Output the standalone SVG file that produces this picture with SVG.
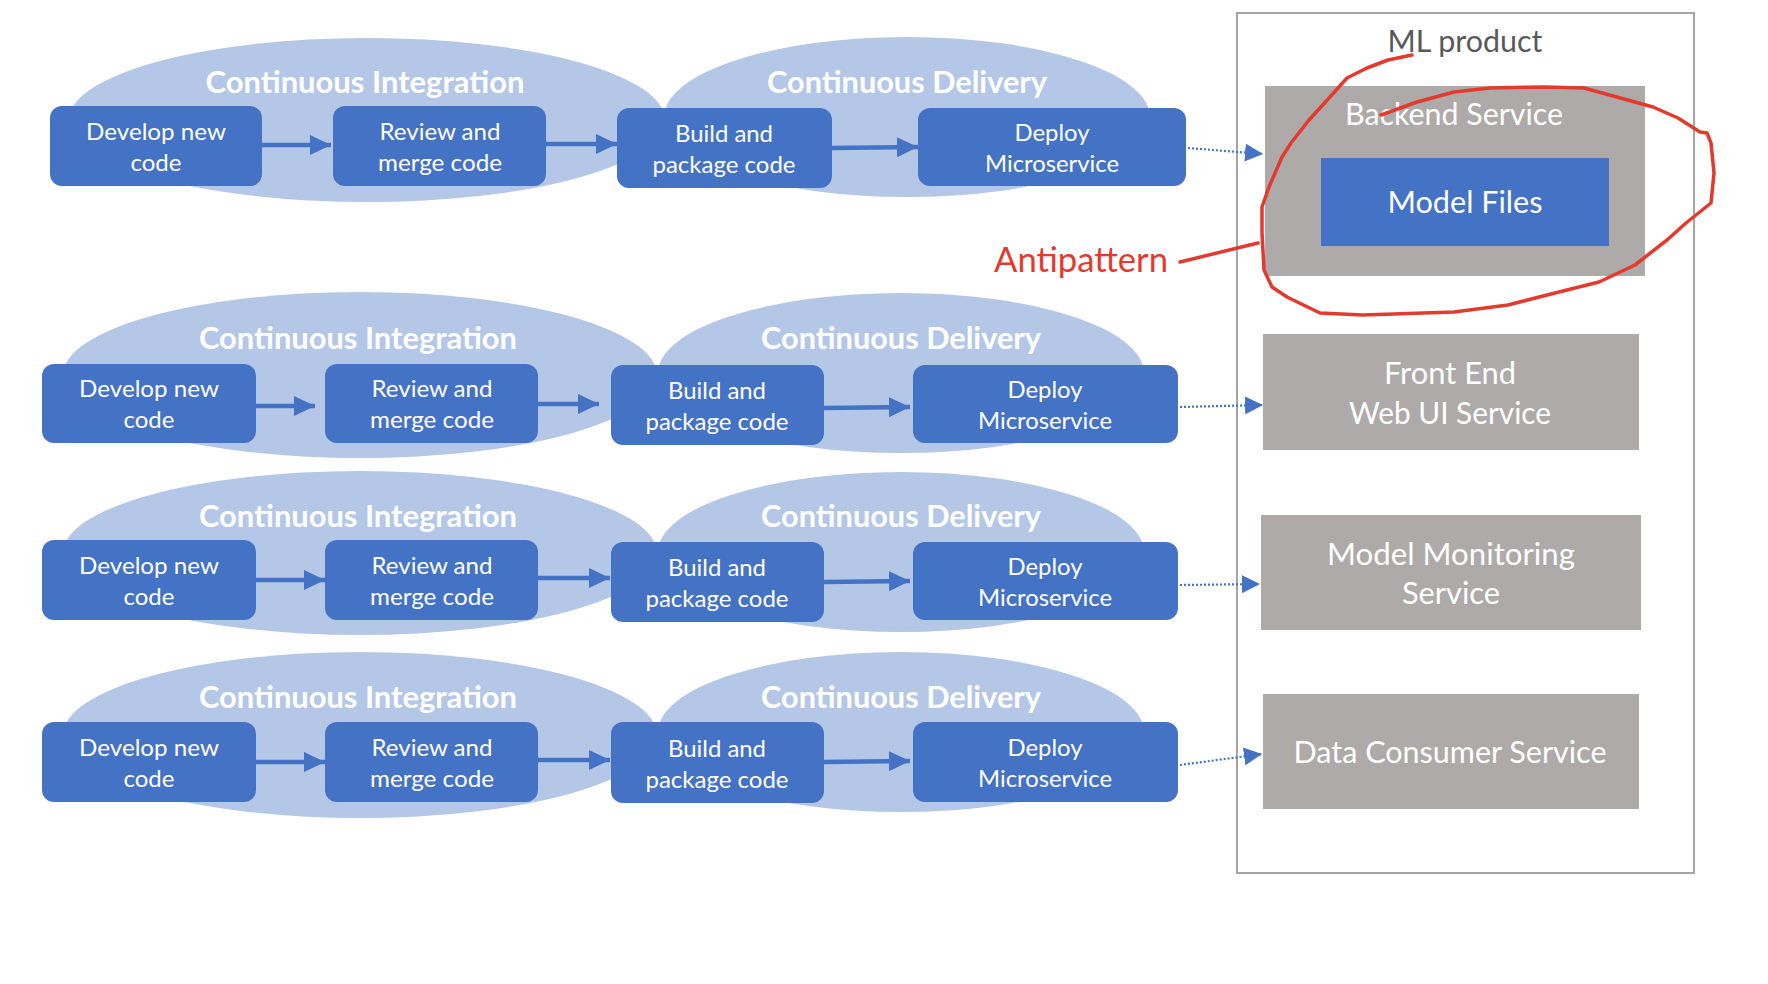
<svg xmlns="http://www.w3.org/2000/svg" width="1768" height="984" viewBox="0 0 1768 984">
<style>
.ell{fill:#B4C7E7}
.box{fill:#4472C4}
.gray{fill:#AEAAAA}
.t{font-family:Lato,"Open Sans","Liberation Sans",sans-serif;fill:#FFFFFF;text-anchor:middle}
.bt{font-size:24px}
.tt{font-size:31px;font-weight:bold}
.rt{font-size:31px}
.arr{stroke:#4472C4;stroke-width:4.5;fill:none}
.dot{stroke:#4472C4;stroke-width:2.2;stroke-dasharray:2 2;fill:none}
.red{stroke:#E23B2E;stroke-width:3.5;fill:none;stroke-linejoin:round;stroke-linecap:round}
</style>
<defs>
<marker id="ah" markerUnits="userSpaceOnUse" markerWidth="22" markerHeight="20" refX="21" refY="10" orient="auto"><path d="M0,0 L21,10 L0,20 z" fill="#4472C4"/></marker>
<marker id="ahd" markerUnits="userSpaceOnUse" markerWidth="18" markerHeight="18" refX="18" refY="9" orient="auto"><path d="M0,0 L18,9 L0,18 z" fill="#4472C4"/></marker>
</defs>
<rect width="1768" height="984" fill="#FFFFFF"/>

<!-- Row 1 -->
<g id="ci1"><ellipse class="ell" cx="367" cy="120" rx="298" ry="82"/><text class="t tt" x="365" y="93" textLength="319" lengthAdjust="spacingAndGlyphs">Continuous Integration</text></g>
<g id="cd1"><ellipse class="ell" cx="907" cy="117" rx="243" ry="80"/><text class="t tt" x="907" y="93" textLength="280" lengthAdjust="spacingAndGlyphs">Continuous Delivery</text></g>
<g id="dev1"><rect class="box" x="50" y="106" width="212" height="80" rx="12"/><text class="t bt" x="156" y="140" textLength="140" lengthAdjust="spacingAndGlyphs">Develop new</text><text class="t bt" x="156" y="171" textLength="51" lengthAdjust="spacingAndGlyphs">code</text></g>
<g id="rev1"><rect class="box" x="333" y="106" width="213" height="80" rx="12"/><text class="t bt" x="440" y="140" textLength="121" lengthAdjust="spacingAndGlyphs">Review and</text><text class="t bt" x="440" y="171" textLength="124" lengthAdjust="spacingAndGlyphs">merge code</text></g>
<g id="bld1"><rect class="box" x="617" y="108" width="215" height="80" rx="12"/><text class="t bt" x="724" y="142" textLength="98" lengthAdjust="spacingAndGlyphs">Build and</text><text class="t bt" x="724" y="173" textLength="143" lengthAdjust="spacingAndGlyphs">package code</text></g>
<g id="dep1"><rect class="box" x="918" y="108" width="268" height="78" rx="12"/><text class="t bt" x="1052" y="141" textLength="75" lengthAdjust="spacingAndGlyphs">Deploy</text><text class="t bt" x="1052" y="172" textLength="134" lengthAdjust="spacingAndGlyphs">Microservice</text></g>

<!-- Row 2 -->
<g id="ci2"><ellipse class="ell" cx="360" cy="375" rx="297" ry="83"/><text class="t tt" x="358" y="349" textLength="318" lengthAdjust="spacingAndGlyphs">Continuous Integration</text></g>
<g id="cd2"><ellipse class="ell" cx="901" cy="373" rx="243" ry="80"/><text class="t tt" x="901" y="349" textLength="280" lengthAdjust="spacingAndGlyphs">Continuous Delivery</text></g>
<g id="dev2"><rect class="box" x="42" y="364" width="214" height="79" rx="12"/><text class="t bt" x="149" y="397" textLength="140" lengthAdjust="spacingAndGlyphs">Develop new</text><text class="t bt" x="149" y="428" textLength="51" lengthAdjust="spacingAndGlyphs">code</text></g>
<g id="rev2"><rect class="box" x="325" y="364" width="213" height="79" rx="12"/><text class="t bt" x="432" y="397" textLength="121" lengthAdjust="spacingAndGlyphs">Review and</text><text class="t bt" x="432" y="428" textLength="124" lengthAdjust="spacingAndGlyphs">merge code</text></g>
<g id="bld2"><rect class="box" x="611" y="365" width="213" height="80" rx="12"/><text class="t bt" x="717" y="399" textLength="98" lengthAdjust="spacingAndGlyphs">Build and</text><text class="t bt" x="717" y="430" textLength="143" lengthAdjust="spacingAndGlyphs">package code</text></g>
<g id="dep2"><rect class="box" x="913" y="365" width="265" height="78" rx="12"/><text class="t bt" x="1045" y="398" textLength="75" lengthAdjust="spacingAndGlyphs">Deploy</text><text class="t bt" x="1045" y="429" textLength="134" lengthAdjust="spacingAndGlyphs">Microservice</text></g>

<!-- Row 3 -->
<g id="ci3"><ellipse class="ell" cx="360" cy="553" rx="297" ry="82"/><text class="t tt" x="358" y="527" textLength="318" lengthAdjust="spacingAndGlyphs">Continuous Integration</text></g>
<g id="cd3"><ellipse class="ell" cx="901" cy="552" rx="243" ry="80"/><text class="t tt" x="901" y="527" textLength="280" lengthAdjust="spacingAndGlyphs">Continuous Delivery</text></g>
<g id="dev3"><rect class="box" x="42" y="540" width="214" height="80" rx="12"/><text class="t bt" x="149" y="574" textLength="140" lengthAdjust="spacingAndGlyphs">Develop new</text><text class="t bt" x="149" y="605" textLength="51" lengthAdjust="spacingAndGlyphs">code</text></g>
<g id="rev3"><rect class="box" x="325" y="540" width="213" height="80" rx="12"/><text class="t bt" x="432" y="574" textLength="121" lengthAdjust="spacingAndGlyphs">Review and</text><text class="t bt" x="432" y="605" textLength="124" lengthAdjust="spacingAndGlyphs">merge code</text></g>
<g id="bld3"><rect class="box" x="611" y="542" width="213" height="80" rx="12"/><text class="t bt" x="717" y="576" textLength="98" lengthAdjust="spacingAndGlyphs">Build and</text><text class="t bt" x="717" y="607" textLength="143" lengthAdjust="spacingAndGlyphs">package code</text></g>
<g id="dep3"><rect class="box" x="913" y="542" width="265" height="78" rx="12"/><text class="t bt" x="1045" y="575" textLength="75" lengthAdjust="spacingAndGlyphs">Deploy</text><text class="t bt" x="1045" y="606" textLength="134" lengthAdjust="spacingAndGlyphs">Microservice</text></g>

<!-- Row 4 -->
<g id="ci4"><ellipse class="ell" cx="360" cy="735" rx="297" ry="83"/><text class="t tt" x="358" y="708" textLength="318" lengthAdjust="spacingAndGlyphs">Continuous Integration</text></g>
<g id="cd4"><ellipse class="ell" cx="901" cy="732" rx="243" ry="80"/><text class="t tt" x="901" y="708" textLength="280" lengthAdjust="spacingAndGlyphs">Continuous Delivery</text></g>
<g id="dev4"><rect class="box" x="42" y="722" width="214" height="80" rx="12"/><text class="t bt" x="149" y="756" textLength="140" lengthAdjust="spacingAndGlyphs">Develop new</text><text class="t bt" x="149" y="787" textLength="51" lengthAdjust="spacingAndGlyphs">code</text></g>
<g id="rev4"><rect class="box" x="325" y="722" width="213" height="80" rx="12"/><text class="t bt" x="432" y="756" textLength="121" lengthAdjust="spacingAndGlyphs">Review and</text><text class="t bt" x="432" y="787" textLength="124" lengthAdjust="spacingAndGlyphs">merge code</text></g>
<g id="bld4"><rect class="box" x="611" y="722" width="213" height="81" rx="12"/><text class="t bt" x="717" y="757" textLength="98" lengthAdjust="spacingAndGlyphs">Build and</text><text class="t bt" x="717" y="788" textLength="143" lengthAdjust="spacingAndGlyphs">package code</text></g>
<g id="dep4"><rect class="box" x="913" y="722" width="265" height="80" rx="12"/><text class="t bt" x="1045" y="756" textLength="75" lengthAdjust="spacingAndGlyphs">Deploy</text><text class="t bt" x="1045" y="787" textLength="134" lengthAdjust="spacingAndGlyphs">Microservice</text></g>

<!-- ML product -->
<g id="mlproduct"><rect x="1237" y="13" width="457" height="860" fill="none" stroke="#A5A5A5" stroke-width="2"/><text x="1465" y="52" font-family="Lato,'Open Sans','Liberation Sans',sans-serif" font-size="31" fill="#595959" text-anchor="middle" textLength="155" lengthAdjust="spacingAndGlyphs">ML product</text></g>
<g id="backend"><rect class="gray" x="1265" y="86" width="380" height="190"/><text class="t rt" x="1454" y="125" textLength="218" lengthAdjust="spacingAndGlyphs">Backend Service</text></g>
<g id="modelfiles"><rect class="box" x="1321" y="158" width="288" height="88"/><text class="t rt" x="1465" y="213" textLength="155" lengthAdjust="spacingAndGlyphs">Model Files</text></g>
<g id="frontend"><rect class="gray" x="1263" y="334" width="376" height="116"/><text class="t rt" x="1450" y="384" textLength="132" lengthAdjust="spacingAndGlyphs">Front End</text><text class="t rt" x="1450" y="424" textLength="202" lengthAdjust="spacingAndGlyphs">Web UI Service</text></g>
<g id="monitoring"><rect class="gray" x="1261" y="515" width="380" height="115"/><text class="t rt" x="1451" y="565" textLength="248" lengthAdjust="spacingAndGlyphs">Model Monitoring</text><text class="t rt" x="1451" y="604" textLength="98" lengthAdjust="spacingAndGlyphs">Service</text></g>
<g id="consumer"><rect class="gray" x="1263" y="694" width="376" height="115"/><text class="t rt" x="1450" y="763" textLength="313" lengthAdjust="spacingAndGlyphs">Data Consumer Service</text></g>

<!-- Connectors -->
<g id="connectors">
<line class="arr" x1="262" y1="145" x2="331" y2="145" marker-end="url(#ah)"/>
<line class="arr" x1="546" y1="144" x2="617" y2="144" marker-end="url(#ah)"/>
<line class="arr" x1="832" y1="148" x2="918" y2="147" marker-end="url(#ah)"/>
<line class="arr" x1="256" y1="406" x2="315" y2="406" marker-end="url(#ah)"/>
<line class="arr" x1="538" y1="404" x2="599" y2="404" marker-end="url(#ah)"/>
<line class="arr" x1="824" y1="408" x2="910" y2="407" marker-end="url(#ah)"/>
<line class="arr" x1="256" y1="580" x2="325" y2="580" marker-end="url(#ah)"/>
<line class="arr" x1="538" y1="578" x2="610" y2="578" marker-end="url(#ah)"/>
<line class="arr" x1="824" y1="582" x2="910" y2="581" marker-end="url(#ah)"/>
<line class="arr" x1="256" y1="762" x2="325" y2="762" marker-end="url(#ah)"/>
<line class="arr" x1="538" y1="760" x2="610" y2="760" marker-end="url(#ah)"/>
<line class="arr" x1="824" y1="762" x2="910" y2="761" marker-end="url(#ah)"/>
<line class="dot" x1="1188" y1="148" x2="1263" y2="154" marker-end="url(#ahd)"/>
<line class="dot" x1="1180" y1="407" x2="1263" y2="405" marker-end="url(#ahd)"/>
<line class="dot" x1="1180" y1="585" x2="1260" y2="584" marker-end="url(#ahd)"/>
<line class="dot" x1="1180" y1="765" x2="1262" y2="754" marker-end="url(#ahd)"/>
</g>

<!-- Antipattern annotation -->
<g id="antipattern">
<text x="1081" y="272" font-family="Lato,'Open Sans','Liberation Sans',sans-serif" font-size="35" fill="#E23B2E" text-anchor="middle" textLength="174" lengthAdjust="spacingAndGlyphs">Antipattern</text>
<line class="red" x1="1180" y1="262" x2="1258" y2="243"/>
<polyline class="red" points="1412,55 1388,60 1367,68 1347,78 1330,97 1309,120 1291,143 1282,157 1269,187 1262,207 1262,233 1264,270 1272,287 1287,297 1320,313 1363,315 1454,312 1508,305 1555,293 1599,282 1635,265 1667,240 1686,223 1711,203 1714,173 1711,143 1707,133 1700,132 1678,118 1653,107 1624,99 1584,88 1544,87 1490,88 1454,92 1417,102 1381,115"/>
</g>
</svg>
